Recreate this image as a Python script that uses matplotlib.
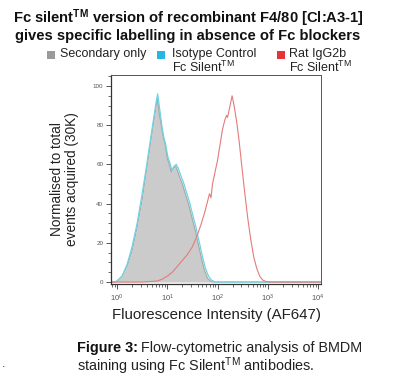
import numpy as np
import matplotlib
matplotlib.use("Agg")
import matplotlib.pyplot as plt
from matplotlib.ticker import LogLocator, MultipleLocator, FixedLocator

plt.rcParams['font.family'] = ['Liberation Sans', 'DejaVu Sans']
plt.rcParams['mathtext.fontset'] = 'custom'
plt.rcParams['mathtext.rm'] = 'Liberation Sans'
plt.rcParams['mathtext.it'] = 'Liberation Sans:italic'
plt.rcParams['mathtext.bf'] = 'Liberation Sans:bold'

# Histogram traces: log10(fluorescence) positions and normalised counts
secondary_logx = [-0.2, -0.05, 0.0, 0.1, 0.2, 0.3, 0.4, 0.5, 0.58, 0.65, 0.72, 0.78, 0.80,
                  0.84, 0.88, 0.92, 0.96, 1.0, 1.04, 1.08, 1.12, 1.17, 1.2, 1.24, 1.3,
                  1.36, 1.42, 1.48, 1.55, 1.62, 1.68, 1.74, 1.80, 1.86, 1.92, 2.0, 4.2]
secondary_y = [0, 0, 0.5, 3, 8, 16, 28, 42, 56, 68, 80, 90, 94,
               86, 80, 74, 70, 63, 60, 56, 58, 59, 57, 54, 50,
               45, 40, 34, 27, 19, 12, 6, 2, 0.5, 0, 0, 0]

isotype_logx = [-0.2, -0.05, 0.0, 0.1, 0.2, 0.3, 0.4, 0.5, 0.58, 0.65, 0.72, 0.78, 0.81,
                0.85, 0.89, 0.93, 0.97, 1.01, 1.05, 1.09, 1.13, 1.18, 1.22, 1.26, 1.32,
                1.38, 1.44, 1.50, 1.57, 1.64, 1.70, 1.76, 1.82, 1.88, 1.95, 2.05, 4.2]
isotype_y = [0, 0, 0.5, 3, 9, 18, 30, 45, 58, 70, 82, 92, 96,
             88, 80, 74, 70, 64, 61, 57, 59, 60, 58, 55, 51,
             46, 41, 35, 28, 20, 13, 7, 3, 1, 0, 0, 0]

ratigg_logx = [-0.2, 0.5, 0.8, 0.9, 1.0, 1.1, 1.2, 1.3, 1.4, 1.5, 1.6, 1.68, 1.75, 1.80,
               1.84, 1.87, 1.90, 1.95, 2.0, 2.05, 2.1, 2.15, 2.18, 2.2, 2.25, 2.29, 2.33,
               2.38, 2.43, 2.48, 2.54, 2.6, 2.66, 2.72, 2.78, 2.84, 2.9, 2.96, 3.05, 4.2]
ratigg_y = [0, 0, 0.5, 1.5, 3, 5, 8, 11, 14, 18, 24, 30, 36, 41,
            45, 43, 50, 56, 62, 70, 78, 83, 85, 84, 90, 95, 90,
            82, 72, 60, 46, 33, 22, 13, 7, 3, 1, 0.3, 0, 0]

legend_labels = ['Secondary only',
                 'Isotype Control\nFc Silent$^{\\mathrm{TM}}$',
                 'Rat IgG2b\nFc Silent$^{\\mathrm{TM}}$']
legend_colors = ['#9a9a9a', '#27b7e6', '#e8323a']

y_ticks = [0, 20, 40, 60, 80, 100]
x_decades = [0, 1, 2, 3, 4]

W, H = 400, 385
fig = plt.figure(figsize=(W / 100, H / 100), dpi=100)


def fx(px):
    return px / W


def fy(py):
    return 1 - py / H


ax = fig.add_axes([fx(111), fy(284), fx(321) - fx(111), fy(75) - fy(284)])

sx = 10 ** np.array(secondary_logx)
ix = 10 ** np.array(isotype_logx)
rx = 10 ** np.array(ratigg_logx)

ax.fill_between(sx, secondary_y, 0, color='#cbcbcb', lw=0)
ax.plot(sx, secondary_y, color='#a8a8a8', lw=0.8)
ax.plot(ix, isotype_y, color='#6fd3e3', lw=0.9)
ax.plot(rx, ratigg_y, color='#e57b7b', lw=0.8)

ax.set_xscale('log')
ax.set_xlim(10 ** -0.12, 10 ** 4.06)
ax.set_ylim(-1, 105.6)

ax.xaxis.set_major_locator(FixedLocator([10.0 ** d for d in x_decades]))
ax.xaxis.set_minor_locator(LogLocator(base=10, subs=np.arange(2, 10), numticks=20))
ax.set_xticklabels([f'$10^{{{d}}}$' for d in x_decades])
ax.set_yticks(y_ticks)
ax.yaxis.set_minor_locator(MultipleLocator(5))

ax.tick_params(axis='both', which='major', length=3.5, width=0.7, color='#555555',
               labelcolor='#555555')
ax.tick_params(axis='both', which='minor', length=2, width=0.6, color='#555555')
ax.tick_params(axis='y', labelsize=4.5, pad=2)
ax.tick_params(axis='x', labelsize=5.5, pad=3)

for side in ['left', 'bottom']:
    ax.spines[side].set_color('#333333')
    ax.spines[side].set_linewidth(0.9)
for side in ['top', 'right']:
    ax.spines[side].set_color('#555555')
    ax.spines[side].set_linewidth(0.7)

ax.set_xlabel('Fluorescence Intensity (AF647)', fontsize=10.8, labelpad=3, color='#222222')
ax.set_ylabel('Normalised to total\nevents acquired (30K)', fontsize=9.8,
              labelpad=10, color='#222222', linespacing=1.05)

fig.text(fx(188), fy(7), 'Fc silent$^{\\mathbf{TM}}$ version of recombinant F4/80 [Cl:A3-1]\n'
         'gives specific labelling in absence of Fc blockers',
         ha='center', va='top', fontsize=10.6, fontweight='bold', linespacing=1.0,
         color='#111111')

# Legend row: coloured squares with labels
square_x = [47, 157, 277]
text_x = [60, 172, 289]
for sqx, tx, col, label in zip(square_x, text_x, legend_colors, legend_labels):
    fig.patches.append(plt.Rectangle((fx(sqx), fy(59)), fx(8), fy(51) - fy(59),
                                     transform=fig.transFigure, color=col, lw=0))
    fig.text(fx(tx), fy(48), label, ha='left', va='top', fontsize=9,
             linespacing=1.0, color='#222222')

# Caption below the chart
renderer = fig.canvas.get_renderer()
lead = fig.text(fx(77), fy(348), 'Figure 3:', ha='left', va='center', fontsize=10.4,
                fontweight='bold', color='#111111')
bb = lead.get_window_extent(renderer=renderer)
fig.text(bb.x1 / W + fx(3), fy(348), 'Flow-cytometric analysis of BMDM',
         ha='left', va='center', fontsize=10.4, color='#222222')
fig.text(fx(77), fy(366), 'staining using Fc Silent$^{\\mathrm{TM}}$ antibodies.',
         ha='left', va='center', fontsize=10.4, color='#222222')
fig.text(fx(2), fy(364), '.', ha='left', va='center', fontsize=9, color='#333333')

fig.savefig('out.png', dpi=100)
